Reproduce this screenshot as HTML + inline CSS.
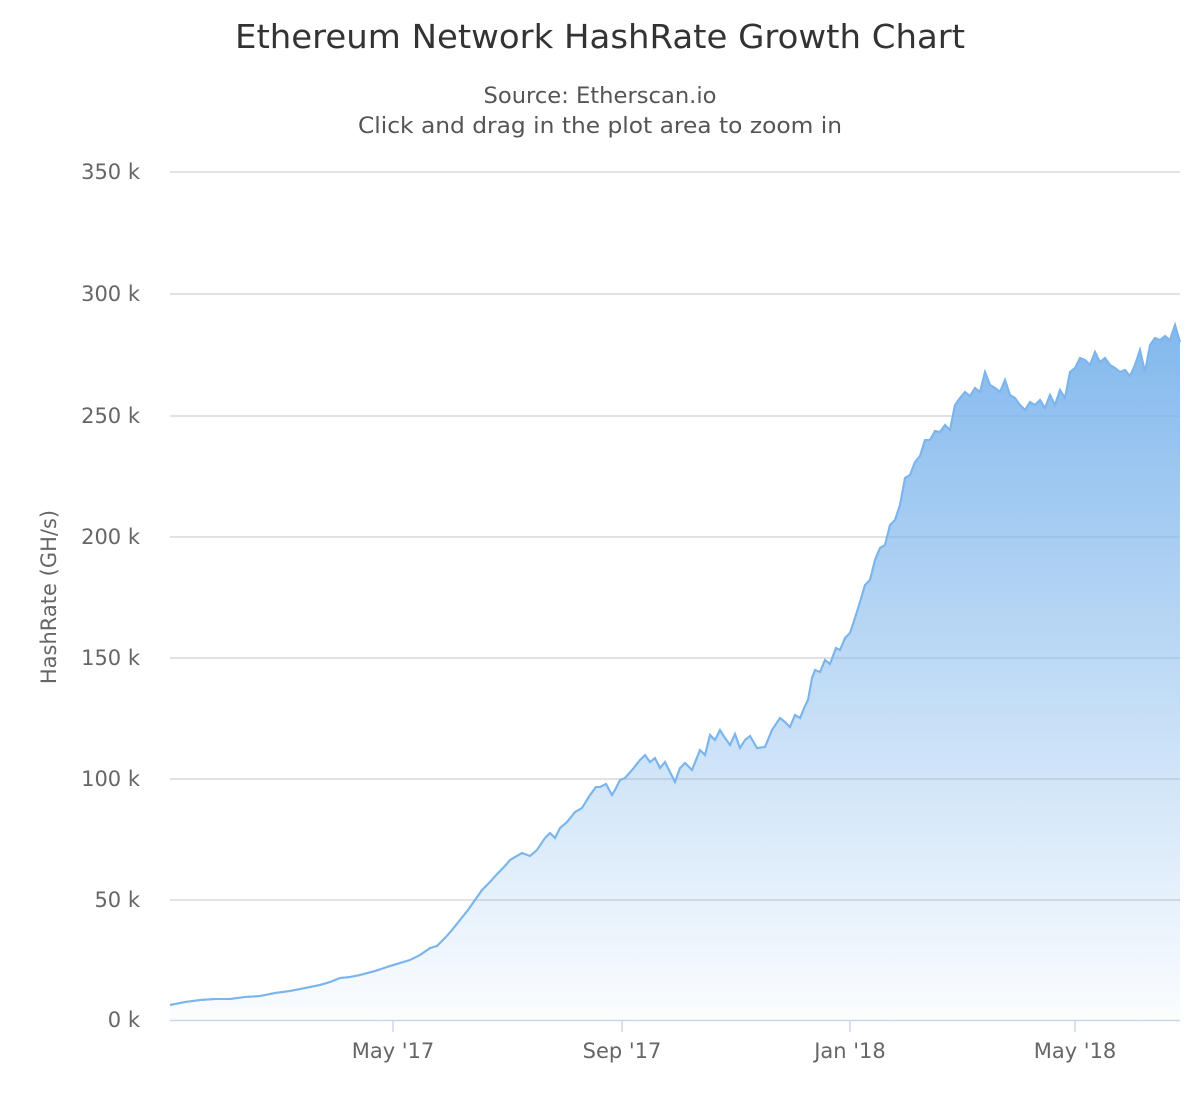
<!DOCTYPE html>
<html><head><meta charset="utf-8"><style>
body{margin:0;background:#fff;}
svg text{font-family:"DejaVu Sans","Liberation Sans",sans-serif;}
</style></head><body>
<svg width="1200" height="1100" viewBox="0 0 1200 1100" xmlns="http://www.w3.org/2000/svg">
<defs>
<linearGradient id="g" x1="0" y1="0" x2="0" y2="1">
<stop offset="0" stop-color="#7cb5ec" stop-opacity="0.95"/>
<stop offset="1" stop-color="#7cb5ec" stop-opacity="0.03"/>
</linearGradient>
</defs>
<text x="600" y="48" text-anchor="middle" font-size="33" fill="#333" textLength="730" lengthAdjust="spacingAndGlyphs">Ethereum Network HashRate Growth Chart</text>
<text x="600" y="103" text-anchor="middle" font-size="22" fill="#555" textLength="233" lengthAdjust="spacingAndGlyphs">Source: Etherscan.io</text>
<text x="600" y="133" text-anchor="middle" font-size="22" fill="#555" textLength="484" lengthAdjust="spacingAndGlyphs">Click and drag in the plot area to zoom in</text>
<g stroke="#d8d8d8" stroke-width="1.5">
<line x1="170" y1="172" x2="1180" y2="172"/>
<line x1="170" y1="294" x2="1180" y2="294"/>
<line x1="170" y1="416" x2="1180" y2="416"/>
<line x1="170" y1="537" x2="1180" y2="537"/>
<line x1="170" y1="658" x2="1180" y2="658"/>
<line x1="170" y1="779" x2="1180" y2="779"/>
<line x1="170" y1="900" x2="1180" y2="900"/>
</g>
<g font-size="21" fill="#666" text-anchor="end">
<text x="140" y="179">350 k</text>
<text x="140" y="301">300 k</text>
<text x="140" y="423">250 k</text>
<text x="140" y="544">200 k</text>
<text x="140" y="665">150 k</text>
<text x="140" y="786">100 k</text>
<text x="140" y="907">50 k</text>
<text x="140" y="1027">0 k</text>
</g>
<text transform="translate(56,597) rotate(-90)" text-anchor="middle" font-size="21" fill="#666">HashRate (GH/s)</text>
<path id="d" d="M170,1005 L185,1002 200,1000 215,999 230,999 245,997 260,996 275,993 290,991 305,988 320,985 330,982 340,978 350,977 360,975 375,971 390,966 400,963 410,960 420,955 430,948 437,946 445,938 452,930 460,920 468,910 475,900 482,890 490,882 497,874 505,866 510,860 515,857 522,853 530,856 537,850 545,838 550,833 555,838 560,828 567,822 575,812 582,808 590,795 596,787 600,787 606,784 612,795 615,790 620,780 625,778 632,770 640,760 645,755 650,762 655,758 660,768 665,762 670,772 675,782 680,768 685,763 692,770 700,750 705,755 710,735 715,740 720,730 725,738 730,745 735,734 740,748 745,740 750,736 757,748 765,747 772,730 780,718 785,722 790,727 795,715 800,718 805,706 808,700 812,678 815,670 820,672 825,660 830,664 836,648 840,650 845,638 850,633 855,618 860,602 865,585 870,580 875,560 880,548 885,545 890,525 895,520 900,505 905,478 910,475 915,462 920,456 925,440 930,440 935,431 940,432 945,425 950,430 955,405 960,398 965,392 970,396 975,388 980,392 985,372 990,385 995,388 1000,392 1005,380 1010,395 1015,398 1020,405 1025,410 1030,402 1035,405 1040,400 1045,408 1050,395 1055,405 1060,390 1065,398 1070,372 1075,368 1080,358 1085,360 1090,365 1095,352 1100,362 1105,358 1110,365 1115,368 1120,372 1125,370 1130,376 1135,365 1140,350 1145,372 1150,345 1155,338 1160,340 1165,336 1170,340 1175,325 1180,342"
 fill="none" stroke="#7cb5ec" stroke-width="2"/>
<path d="M170,1005 L185,1002 200,1000 215,999 230,999 245,997 260,996 275,993 290,991 305,988 320,985 330,982 340,978 350,977 360,975 375,971 390,966 400,963 410,960 420,955 430,948 437,946 445,938 452,930 460,920 468,910 475,900 482,890 490,882 497,874 505,866 510,860 515,857 522,853 530,856 537,850 545,838 550,833 555,838 560,828 567,822 575,812 582,808 590,795 596,787 600,787 606,784 612,795 615,790 620,780 625,778 632,770 640,760 645,755 650,762 655,758 660,768 665,762 670,772 675,782 680,768 685,763 692,770 700,750 705,755 710,735 715,740 720,730 725,738 730,745 735,734 740,748 745,740 750,736 757,748 765,747 772,730 780,718 785,722 790,727 795,715 800,718 805,706 808,700 812,678 815,670 820,672 825,660 830,664 836,648 840,650 845,638 850,633 855,618 860,602 865,585 870,580 875,560 880,548 885,545 890,525 895,520 900,505 905,478 910,475 915,462 920,456 925,440 930,440 935,431 940,432 945,425 950,430 955,405 960,398 965,392 970,396 975,388 980,392 985,372 990,385 995,388 1000,392 1005,380 1010,395 1015,398 1020,405 1025,410 1030,402 1035,405 1040,400 1045,408 1050,395 1055,405 1060,390 1065,398 1070,372 1075,368 1080,358 1085,360 1090,365 1095,352 1100,362 1105,358 1110,365 1115,368 1120,372 1125,370 1130,376 1135,365 1140,350 1145,372 1150,345 1155,338 1160,340 1165,336 1170,340 1175,325 1180,342 L1180,1020 L170,1020 Z" fill="url(#g)" stroke="none"/>
<use href="#d"/>
<line x1="170" y1="1020.5" x2="1180" y2="1020.5" stroke="#ccd6eb" stroke-width="1.5"/>
<g stroke="#ccd6eb" stroke-width="1.5">
<line x1="393" y1="1020" x2="393" y2="1032"/>
<line x1="622" y1="1020" x2="622" y2="1032"/>
<line x1="850" y1="1020" x2="850" y2="1032"/>
<line x1="1075" y1="1020" x2="1075" y2="1032"/>
</g>
<g font-size="21" fill="#666" text-anchor="middle">
<text x="393" y="1058">May '17</text>
<text x="622" y="1058">Sep '17</text>
<text x="850" y="1058">Jan '18</text>
<text x="1075" y="1058">May '18</text>
</g>
</svg>
</body></html>
